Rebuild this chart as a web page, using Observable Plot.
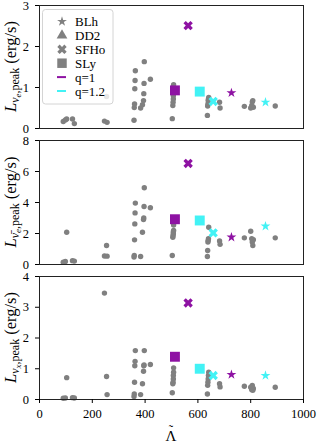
<!DOCTYPE html>
<html><head><meta charset="utf-8">
<script src="https://cdn.jsdelivr.net/npm/d3@7"></script>
<script src="https://cdn.jsdelivr.net/npm/@observablehq/plot@0.6"></script>
<style>
body{margin:0;background:#fff;}
#chart{width:318px;height:442px;position:relative;overflow:hidden;}
#chart svg{display:block;overflow:visible;}
#chart svg text{font-family:"Liberation Serif";}
</style>
</head><body><div id="chart"></div>
<script>
// Gray simulations: reduced tidal deformability and peak luminosities
const lambdaTilde = [90, 98, 103, 125, 132,
  246, 254, 256,
  358, 359, 360, 361, 362, 363,
  383, 390, 394, 395, 396, 397, 420,
  503, 505, 506, 507, 507, 508, 508,
  636, 637, 638, 639, 640, 641,
  682, 684, 776, 800, 804, 806, 808, 810, 893];
const lumNuE = [0.17, 0.21, 0.23, 0.23, 0.12,
  0.18, 0.78, 0.15,
  0.2, 0.51, 0.6, 0.97, 1.17, 1.41,
  0.5, 0.58, 0.68, 0.85, 1.1, 1.63, 1.2,
  0.24, 0.56, 0.64, 0.72, 0.8, 0.93, 1.07,
  0.32, 0.55, 0.6, 0.68, 0.72, 0.76,
  0.64, 0.5, 0.54, 0.5, 0.56, 0.65, 0.68, 0.52, 0.55];
const lumNuEBar = [0.15, 0.2, 2.08, 0.25, 0.22,
  0.55, 1.23, 0.54,
  0.48, 0.58, 1.59, 2.62, 3.33, 3.96,
  0.52, 2.08, 2.9, 3.0, 3.74, 4.95, 3.66,
  0.58, 1.76, 1.87, 1.98, 2.1, 2.2, 2.55,
  0.52, 0.9, 1.45, 1.55, 1.66, 2.4,
  1.52, 1.3, 1.72, 2.15, 1.66, 1.45, 1.23, 1.6, 1.72];
const lumNuX = [0.04, 0.05, 0.71, 0.06, 0.05,
  3.46, 0.75, 0.16,
  0.1, 0.18, 0.56, 1.1, 1.24, 1.59,
  0.16, 0.51, 0.92, 1.1, 1.12, 1.59, 1.14,
  0.22, 0.51, 0.56, 0.67, 0.78, 0.89, 1.03,
  0.18, 0.46, 0.56, 0.67, 0.78, 0.89,
  0.51, 0.41, 0.43, 0.4, 0.32, 0.46, 0.3, 0.36, 0.4];

// Highlighted runs
const eosNames  = ["SLy", "SFHo", "SLy", "SFHo", "BLh", "BLh"];
const massRatio = ["q=1", "q=1", "q=1.2", "q=1.2", "q=1", "q=1.2"];
const eosLambda = [513, 563, 607, 658, 727, 856];
const eosNuE    = [0.93, 2.51, 0.90, 0.66, 0.87, 0.64];
const eosNuEBar = [2.92, 6.52, 2.84, 2.04, 1.76, 2.47];
const eosNuX    = [1.39, 3.14, 1.00, 0.78, 0.81, 0.78];

const legendEos = ["BLh", "DD2", "SFHo", "SLy"];
const legendQ = ["q=1", "q=1.2"];
const xTicks = [0, 200, 400, 600, 800, 1000];
const yTicksNuE = [0, 1, 2, 3];
const yTicksNuEBar = [0, 2, 4, 6, 8];
const yTicksNuX = [0, 1, 2, 3, 4];

const purple = "#8e12a3", cyan = "#42f2f5", gray = "#808080";
const font = "Liberation Serif";

const panels = [
  {values: lumNuE, eos: eosNuE, ticks: yTicksNuE, domain: [0, 3], height: 135, mt: 5, mb: 7, nu: "ν", sub: "e"},
  {values: lumNuEBar, eos: eosNuEBar, ticks: yTicksNuEBar, domain: [0, 8], height: 135, mt: 5, mb: 6, nu: "ν\u0304", sub: "e"},
  {values: lumNuX, eos: eosNuX, ticks: yTicksNuX, domain: [0, 4], height: 172, mt: 6, mb: 43, nu: "ν", sub: "x"}
];

const chart = document.getElementById("chart");
panels.forEach((p, idx) => {
  const last = idx === panels.length - 1;
  const grayData = lambdaTilde.map((x, i) => ({x, y: p.values[i]}));
  const eosData = eosLambda.map((x, i) => ({x, y: p.eos[i], name: eosNames[i], q: massRatio[i]}));
  const marks = [
    Plot.dot(grayData, {x: "x", y: "y", r: 2.7, fill: gray}),
    Plot.dot(eosData.filter(d => d.name === "SLy"), {x: "x", y: "y", symbol: "square", r: 5.6, fill: "q"}),
    Plot.dot(eosData.filter(d => d.name === "SFHo"), {x: "x", y: "y", symbol: "cross", rotate: 45, r: 4.2, fill: "q"}),
    Plot.dot(eosData.filter(d => d.name === "BLh"), {x: "x", y: "y", symbol: "star", r: 3.1, fill: "q"}),
    Plot.frame({stroke: "#222", strokeWidth: 1}),
    Plot.axisY({ticks: p.ticks, tickFormat: d => String(d), tickSize: 4, tickPadding: 6.5, label: null, fontSize: 12.5})
  ];
  if (last) marks.push(Plot.axisX({ticks: xTicks, tickFormat: d => String(d), tickSize: 4, tickPadding: 6, label: null, fontSize: 12.5}));
  const plot = Plot.plot({
    width: 318, height: p.height,
    marginLeft: 39, marginRight: 15, marginTop: p.mt, marginBottom: p.mb,
    x: last ? {domain: [0, 1000]} : {domain: [0, 1000], axis: null},
    y: {domain: p.domain},
    color: {domain: legendQ, range: [purple, cyan]},
    style: {fontFamily: font, fontSize: "12.5px", color: "#000", background: "transparent", overflow: "visible"},
    marks
  });
  chart.appendChild(plot);
  const svg = d3.select(plot);
  const cy = p.mt + (p.height - p.mt - p.mb) / 2;
  const t = svg.append("text")
    .attr("transform", `translate(15.5,${cy}) rotate(-90)`)
    .attr("text-anchor", "middle")
    .attr("font-family", font).attr("font-size", 16.5).attr("fill", "#000");
  t.append("tspan").attr("font-style", "italic").text("L");
  t.append("tspan").attr("dy", 3.2).attr("font-size", 12).attr("font-style", "italic").text(p.nu);
  t.append("tspan").attr("dy", 2).attr("font-size", 9).attr("font-style", "italic").text(p.sub);
  t.append("tspan").attr("dy", -2).attr("font-size", 12).text(",peak");
  t.append("tspan").attr("dy", -3.2).text(" (erg/s)");

  if (last) {
    const lx = svg.append("g").attr("transform", "translate(171,170.5)");
    lx.append("text").attr("text-anchor", "middle").attr("font-family", font).attr("font-size", 15).text("Λ");
    lx.append("text").attr("text-anchor", "middle").attr("y", -6.5).attr("font-family", font).attr("font-size", 13).text("\u02DC");
  }

  if (idx === 0) {
    const lg = svg.append("g").attr("text-anchor", "start");
    lg.append("rect").attr("x", 42.5).attr("y", 9.5).attr("width", 70.5).attr("height", 94.5)
      .attr("rx", 3).attr("fill", "#fff").attr("fill-opacity", 0.8).attr("stroke", "#d4d4d4");
    const symMap = {BLh: [d3.symbolStar, 30, 0], DD2: [d3.symbolTriangle, 50, 0], SFHo: [d3.symbolCross, 55, 45], SLy: [d3.symbolSquare, 90, 0]};
    const y0 = 21.5, dy = 13.9;
    legendEos.forEach((name, i) => {
      const [type, size, rot] = symMap[name];
      const yy = y0 + i * dy;
      lg.append("path").attr("d", d3.symbol(type, size)())
        .attr("transform", `translate(62,${yy}) rotate(${rot})`).attr("fill", gray);
      lg.append("text").attr("x", 75).attr("y", yy + 4.5).attr("text-anchor", "start")
        .attr("font-family", font).attr("font-size", 13).text(name);
    });
    legendQ.forEach((name, i) => {
      const yy = y0 + (4 + i) * dy;
      lg.append("line").attr("x1", 57).attr("x2", 66).attr("y1", yy).attr("y2", yy)
        .attr("stroke", i === 0 ? purple : cyan).attr("stroke-width", 2);
      lg.append("text").attr("x", 75).attr("y", yy + 4.5).attr("text-anchor", "start")
        .attr("font-family", font).attr("font-size", 13).text(name);
    });
  }
});
</script>
</body></html>
